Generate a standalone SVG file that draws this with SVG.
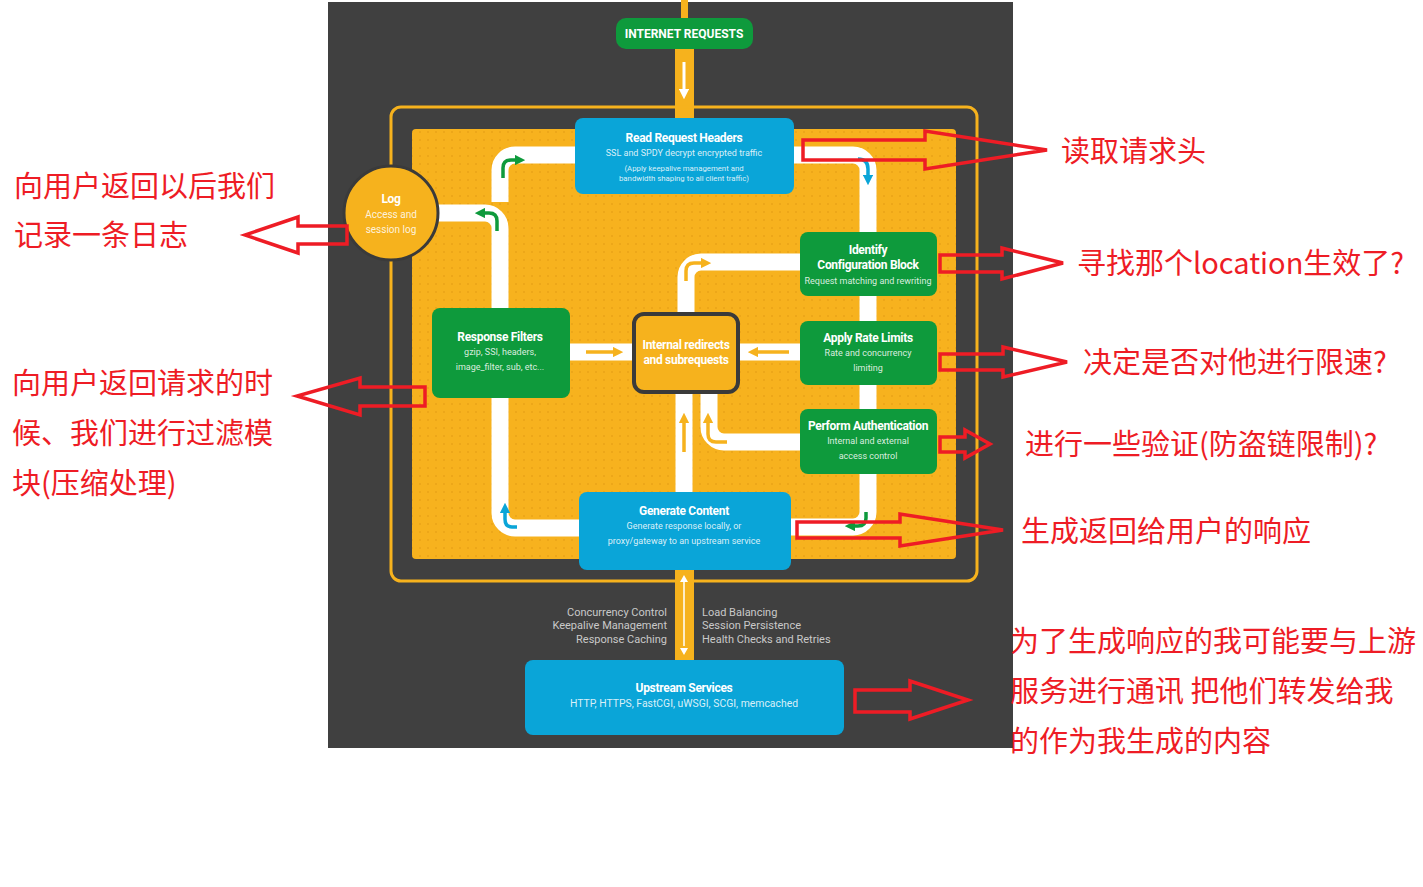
<svg xmlns="http://www.w3.org/2000/svg" width="1423" height="887" viewBox="0 0 1423 887">
<style>
.t{font-family:Roboto,"Liberation Sans",sans-serif;fill:#fff;text-anchor:middle}
.h{font-weight:bold;font-size:12px;letter-spacing:-0.3px}
.s{font-size:9px;fill-opacity:0.85}
.side{font-family:Roboto,"Liberation Sans",sans-serif;font-size:11px;fill:#c9c9c9}
.band{fill:none;stroke:#fff;stroke-width:17}
.ya{fill:none;stroke:#f6b21d;stroke-width:3.5}
.ga{fill:none;stroke:#0e9a3c;stroke-width:3.5}
.ba{fill:none;stroke:#0aa5d8;stroke-width:3.5}
.red{fill:none;stroke:#ee1c25;stroke-width:3.5;stroke-linejoin:miter}
.zh{font-family:"Noto Sans CJK SC",sans-serif;font-size:29px;fill:#ee1c25}
.green{fill:#0e9a3c}
.blue{fill:#0aa5d8}
</style>
<defs>
<pattern id="dots" width="8" height="8" patternUnits="userSpaceOnUse">
<circle cx="4" cy="4" r="1.1" fill="#de9810" fill-opacity="0.55"/>
</pattern>
<marker id="my" viewBox="0 0 10 10" refX="5" refY="5" markerWidth="3" markerHeight="3" orient="auto"><path d="M0,0 L10,5 L0,10 z" fill="#f6b21d"/></marker>
<marker id="mg" viewBox="0 0 10 10" refX="5" refY="5" markerWidth="3" markerHeight="3" orient="auto"><path d="M0,0 L10,5 L0,10 z" fill="#0e9a3c"/></marker>
<marker id="mb" viewBox="0 0 10 10" refX="5" refY="5" markerWidth="3" markerHeight="3" orient="auto"><path d="M0,0 L10,5 L0,10 z" fill="#0aa5d8"/></marker>
<marker id="mw" viewBox="0 0 10 10" refX="5" refY="5" markerWidth="3.5" markerHeight="3.5" orient="auto"><path d="M0,0 L10,5 L0,10 z" fill="#fff"/></marker>
</defs>
<rect width="1423" height="887" fill="#fff"/>
<g id="background">
<rect x="328" y="2" width="685" height="746" fill="#404040"/>
<rect x="681" y="0" width="7" height="20" fill="#f6b21d"/>
<rect x="675" y="46" width="19" height="84" fill="#f6b21d"/>
<rect x="391" y="107" width="586" height="474" rx="10" fill="none" stroke="#f6b21d" stroke-width="3"/>
<rect x="412" y="129" width="544" height="430" rx="4" fill="#f7b21e"/>
<rect x="412" y="129" width="544" height="430" rx="4" fill="url(#dots)"/>
<rect x="675" y="568" width="19" height="94" fill="#f6b21d"/>
</g>
<g id="connectors">
<path class="band" d="M793,155 H853 A15,15 0 0 1 868,170 V234"/>
<path class="band" d="M868,294 V323"/>
<path class="band" d="M868,383 V411"/>
<path class="band" d="M868,472 V512 A15,15 0 0 1 853,527 H790"/>
<path class="band" d="M580,528 H515 A15,15 0 0 1 500,513 V396"/>
<path class="band" d="M500,310 V228 A15,15 0 0 0 485,213 H436"/>
<path class="band" d="M500,202 V170 A15,15 0 0 1 515,155 H577"/>
<path class="band" d="M568,352 H635"/>
<path class="band" d="M736,352 H802"/>
<path class="band" d="M686,315 V277 A15,15 0 0 1 701,262 H802"/>
<path class="band" d="M684,390 V494"/>
<path class="band" d="M709,390 V427 A15,15 0 0 0 724,442 H802"/>
<path class="ga" d="M503,178 V168 Q503,160 511,160 H520" marker-end="url(#mg)"/>
<path class="ga" d="M497,231 V221 Q497,213 489,213 H480" marker-end="url(#mg)"/>
<path class="ba" d="M858,159 Q868,159 868,169 V180" marker-end="url(#mb)"/>
<path class="ga" d="M866,512 V518 Q866,526 858,526 H850" marker-end="url(#mg)"/>
<path class="ba" d="M517,527 H512 Q505,527 505,519 V508" marker-end="url(#mb)"/>
<path class="ya" d="M586,352 H618" marker-end="url(#my)"/>
<path class="ya" d="M789,352 H753" marker-end="url(#my)"/>
<path class="ya" d="M684,452 V418" marker-end="url(#my)"/>
<path class="ya" d="M727,442 H716 Q708,442 708,434 V418" marker-end="url(#my)"/>
<path class="ya" d="M686,281 V271 Q686,263 694,263 H706" marker-end="url(#my)"/>
<path d="M684,62 V94" fill="none" stroke="#fff" stroke-width="3" marker-end="url(#mw)"/>
<path d="M684,582 V646" fill="none" stroke="#fff" stroke-width="1.5"/>
<path d="M680,648 L684,655 L688,648 z M680,582 L684,575 L688,582 z" fill="#fff"/>
</g>
<g id="internet-requests">
<rect x="616" y="18" width="137" height="31" rx="10" class="green"/>
<text x="684" y="38" class="t" style="font-weight:bold;font-size:12px">INTERNET REQUESTS</text>
</g>
<g id="read-request-headers">
<rect x="575" y="118" width="219" height="76" rx="8" class="blue"/>
<text x="684" y="142" class="t h">Read Request Headers</text>
<text x="684" y="156" class="t s">SSL and SPDY decrypt encrypted traffic</text>
<text x="684" y="171" class="t s" style="font-size:7.8px">(Apply keepalive management and</text>
<text x="684" y="181" class="t s" style="font-size:7.8px">bandwidth shaping to all client traffic)</text>
</g>
<g id="log">
<circle cx="391" cy="213" r="47" fill="#f6b21d" stroke="#3a3a3a" stroke-width="3"/>
<text x="391" y="203" class="t h">Log</text>
<text x="391" y="218" class="t s" style="font-size:10px">Access and</text>
<text x="391" y="233" class="t s" style="font-size:10px">session log</text>
</g>
<g id="response-filters">
<rect x="432" y="308" width="138" height="90" rx="8" class="green"/>
<text x="500" y="341" class="t h">Response Filters</text>
<text x="500" y="355" class="t s">gzip, SSI, headers,</text>
<text x="500" y="370" class="t s">image_filter, sub, etc...</text>
</g>
<g id="internal-redirects">
<rect x="634" y="314" width="104" height="78" rx="10" fill="#f6b21d" stroke="#3a3a3a" stroke-width="4"/>
<text x="686" y="349" class="t h">Internal redirects</text>
<text x="686" y="364" class="t h">and subrequests</text>
</g>
<g id="identify-configuration-block">
<rect x="800" y="232" width="137" height="64" rx="8" class="green"/>
<text x="868" y="254" class="t h">Identify</text>
<text x="868" y="269" class="t h">Configuration Block</text>
<text x="868" y="284" class="t s">Request matching and rewriting</text>
</g>
<g id="apply-rate-limits">
<rect x="800" y="321" width="137" height="64" rx="8" class="green"/>
<text x="868" y="342" class="t h">Apply Rate Limits</text>
<text x="868" y="356" class="t s">Rate and concurrency</text>
<text x="868" y="371" class="t s">limiting</text>
</g>
<g id="perform-authentication">
<rect x="800" y="409" width="137" height="65" rx="8" class="green"/>
<text x="868" y="430" class="t h">Perform Authentication</text>
<text x="868" y="444" class="t s">Internal and external</text>
<text x="868" y="459" class="t s">access control</text>
</g>
<g id="generate-content">
<rect x="579" y="492" width="212" height="78" rx="8" class="blue"/>
<text x="684" y="515" class="t h">Generate Content</text>
<text x="684" y="529" class="t s">Generate response locally, or</text>
<text x="684" y="544" class="t s">proxy/gateway to an upstream service</text>
</g>
<g id="side-labels">
<text x="667" y="616" class="side" text-anchor="end">Concurrency Control</text>
<text x="667" y="629" class="side" text-anchor="end">Keepalive Management</text>
<text x="667" y="643" class="side" text-anchor="end">Response Caching</text>
<text x="702" y="616" class="side">Load Balancing</text>
<text x="702" y="629" class="side">Session Persistence</text>
<text x="702" y="643" class="side">Health Checks and Retries</text>
</g>
<g id="upstream-services">
<rect x="525" y="660" width="319" height="75" rx="8" class="blue"/>
<text x="684" y="692" class="t h">Upstream Services</text>
<text x="684" y="707" class="t s" style="font-size:10.4px">HTTP, HTTPS, FastCGI, uWSGI, SCGI, memcached</text>
</g>
<g id="annotations">
<polygon class="red" points="803,140 925,140 925,131 1047,150 925,169 925,160 803,160"/>
<polygon class="red" points="940,255 1002,255 1002,248 1063,263 1002,279 1002,272 940,272"/>
<polygon class="red" points="940,354 1003,354 1003,347 1067,362 1003,377 1003,370 940,370"/>
<polygon class="red" points="940,437 965,437 965,430 990,444 965,458 965,452 940,452"/>
<polygon class="red" points="797,522 900,522 900,514 1003,530 900,546 900,538 797,538"/>
<polygon class="red" points="855,690 910,690 910,681 968,700 910,719 910,712 855,712"/>
<polygon class="red" points="347,226 298,226 298,217 245,235 298,253 298,244 347,244"/>
<polygon class="red" points="425,387 360,387 360,378 297,396 360,415 360,406 425,406"/>
<text x="1061" y="162" class="zh">读取请求头</text>
<text x="1077" y="274" class="zh">寻找那个location生效了?</text>
<text x="1083" y="373" class="zh">决定是否对他进行限速?</text>
<text x="1025" y="455" class="zh">进行一些验证(防盗链限制)?</text>
<text x="1021" y="542" class="zh">生成返回给用户的响应</text>
<text x="1010" y="652" class="zh">为了生成响应的我可能要与上游</text>
<text x="1010" y="702" class="zh">服务进行通讯 把他们转发给我</text>
<text x="1010" y="752" class="zh">的作为我生成的内容</text>
<text x="14" y="197" class="zh">向用户返回以后我们</text>
<text x="14" y="246" class="zh">记录一条日志</text>
<text x="12" y="394" class="zh">向用户返回请求的时</text>
<text x="12" y="444" class="zh">候、我们进行过滤模</text>
<text x="12" y="494" class="zh">块(压缩处理)</text>
</g>
</svg>
